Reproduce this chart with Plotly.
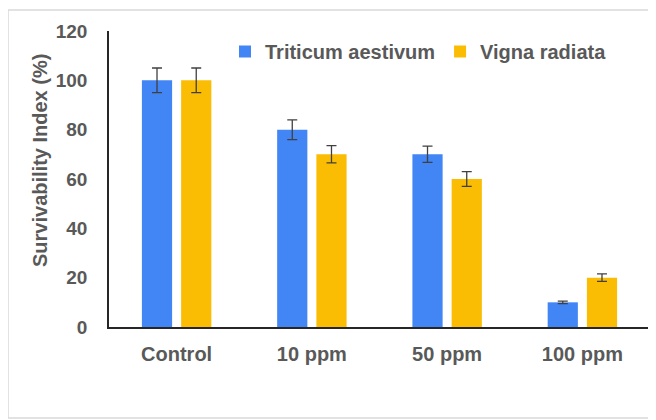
import plotly.graph_objects as go

categories = ["Control", "10 ppm", "50 ppm", "100 ppm"]
triticum = [100, 80, 70, 10]
triticum_err = [5, 4, 3.3, 0.5]
vigna = [100, 70, 60, 20]
vigna_err = [5, 3.5, 3, 1.5]
y_ticks = [0, 20, 40, 60, 80, 100, 120]

# page is rendered with an 8px body margin, so the figure is offset by 8px
OFF = 8
W, H = 656 - OFF, 420 - OFF
L, T = 109 - OFF, 31 - OFF
R = W - (650 - OFF)
B = H - (327 - OFF)
pw, ph = W - L - R, H - T - B

def px(x):
    return (x - OFF - L) / pw

def py(y):
    return (H - B - (y - OFF)) / ph

FONT = "Liberation Sans, Arial, sans-serif"
GRAY = "#595959"

fig = go.Figure()
fig.add_bar(name="Triticum aestivum", x=categories, y=triticum,
            marker=dict(color="#4285F4", line=dict(width=0)),
            error_y=dict(type="data", array=triticum_err, color="#404040", thickness=1.3, width=5))
fig.add_bar(name="Vigna radiata", x=categories, y=vigna,
            marker=dict(color="#FBBC04", line=dict(width=0)),
            error_y=dict(type="data", array=vigna_err, color="#404040", thickness=1.3, width=5))

fig.update_layout(
    width=W, height=H,
    margin=dict(l=L, r=R, t=T, b=B, autoexpand=False),
    paper_bgcolor="white", plot_bgcolor="white",
    barmode="group", bargap=0.42, bargroupgap=0.23,
    font=dict(family=FONT, color=GRAY),
    legend=dict(orientation="h", x=px(225), xanchor="left", y=py(32), yanchor="top",
                font=dict(size=20, color=GRAY, family=FONT, weight="bold"),
                bgcolor="rgba(0,0,0,0)", traceorder="normal"),
    xaxis=dict(showline=True, linecolor="#262626", linewidth=1.5, ticks="",
               tickfont=dict(size=20, color=GRAY, family=FONT, weight="bold"),
               ticklabelstandoff=8, showgrid=False, zeroline=False),
    yaxis=dict(range=[0, 120], tickvals=y_ticks, showline=True, linecolor="#262626",
               linewidth=1.5, ticks="", showgrid=False, zeroline=False,
               tickfont=dict(size=19, color=GRAY, family=FONT, weight="bold"),
               ticklabelstandoff=16),
    annotations=[dict(text="Survivability Index (%)", x=px(40), y=py(161), xref="paper",
                      yref="paper", showarrow=False, textangle=-90,
                      font=dict(size=20, color=GRAY, family=FONT, weight="bold"),
                      xanchor="center", yanchor="middle")],
    shapes=[dict(type="rect", xref="paper", yref="paper", x0=px(8), x1=px(655),
                 y0=py(418), y1=py(10), line=dict(color="#d9d9d9", width=1.5), layer="below")],
)

fig.write_html("out.html")
